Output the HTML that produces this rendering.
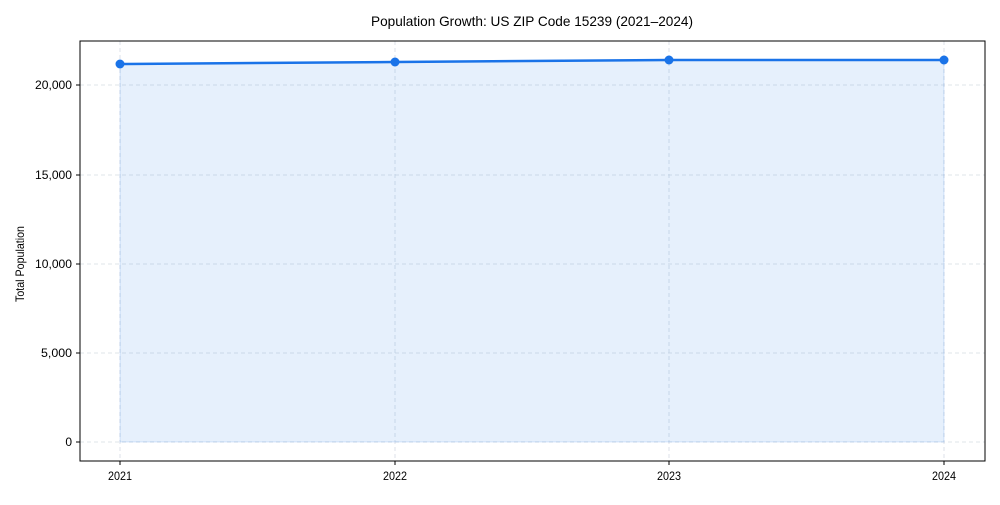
<!DOCTYPE html>
<html><head><meta charset="utf-8"><style>
body{margin:0;background:#fff}
svg text{font-family:"Liberation Sans Narrow","Liberation Sans",sans-serif;fill:#000}
</style></head><body>
<svg width="1000" height="500" xmlns="http://www.w3.org/2000/svg">
<rect width="1000" height="500" fill="#fff"/>
<text x="532" y="26" font-size="14" text-anchor="middle" textLength="322" lengthAdjust="spacingAndGlyphs">Population Growth: US ZIP Code 15239 (2021–2024)</text>
<g stroke="#d5dbe3" stroke-dasharray="4,3" stroke-width="0.8">
<line x1="80" x2="985" y1="442" y2="442"/><line x1="80" x2="985" y1="353" y2="353"/>
<line x1="80" x2="985" y1="264" y2="264"/><line x1="80" x2="985" y1="175" y2="175"/>
<line x1="80" x2="985" y1="85" y2="85"/>
<line x1="120" x2="120" y1="41" y2="461"/><line x1="395" x2="395" y1="41" y2="461"/>
<line x1="669" x2="669" y1="41" y2="461"/><line x1="944" x2="944" y1="41" y2="461"/>
</g>
<polygon points="120,64 395,62 669,60 944,60 944,442 120,442" fill="#1a73e8" fill-opacity="0.11" stroke="#1a73e8" stroke-opacity="0.15"/>
<polyline points="120,64 395,62 669,60 944,60" fill="none" stroke="#1a73e8" stroke-width="2.5"/>
<g fill="#1a73e8"><circle cx="120" cy="64" r="4.5"/><circle cx="395" cy="62" r="4.5"/><circle cx="669" cy="60" r="4.5"/><circle cx="944" cy="60" r="4.5"/></g>
<rect x="80" y="41" width="905" height="420" fill="none" stroke="#000" stroke-width="1"/>
<g stroke="#000"><line x1="76" x2="80" y1="442" y2="442"/><line x1="76" x2="80" y1="353" y2="353"/><line x1="76" x2="80" y1="264" y2="264"/><line x1="76" x2="80" y1="175" y2="175"/><line x1="76" x2="80" y1="85" y2="85"/>
<line x1="120" x2="120" y1="461" y2="465"/><line x1="395" x2="395" y1="461" y2="465"/><line x1="669" x2="669" y1="461" y2="465"/><line x1="944" x2="944" y1="461" y2="465"/></g>
<g font-size="12" text-anchor="end"><text x="72" y="446">0</text><text x="72" y="357" textLength="31" lengthAdjust="spacingAndGlyphs">5,000</text><text x="72" y="268" textLength="37" lengthAdjust="spacingAndGlyphs">10,000</text><text x="72" y="179" textLength="37" lengthAdjust="spacingAndGlyphs">15,000</text><text x="72" y="89" textLength="37" lengthAdjust="spacingAndGlyphs">20,000</text></g>
<g font-size="12" text-anchor="middle"><text x="120" y="480" textLength="24" lengthAdjust="spacingAndGlyphs">2021</text><text x="395" y="480" textLength="24" lengthAdjust="spacingAndGlyphs">2022</text><text x="669" y="480" textLength="24" lengthAdjust="spacingAndGlyphs">2023</text><text x="944" y="480" textLength="24" lengthAdjust="spacingAndGlyphs">2024</text></g>
<text x="24" y="264" font-size="12" text-anchor="middle" transform="rotate(-90 24 264)" textLength="76" lengthAdjust="spacingAndGlyphs">Total Population</text>
</svg>
</body></html>
